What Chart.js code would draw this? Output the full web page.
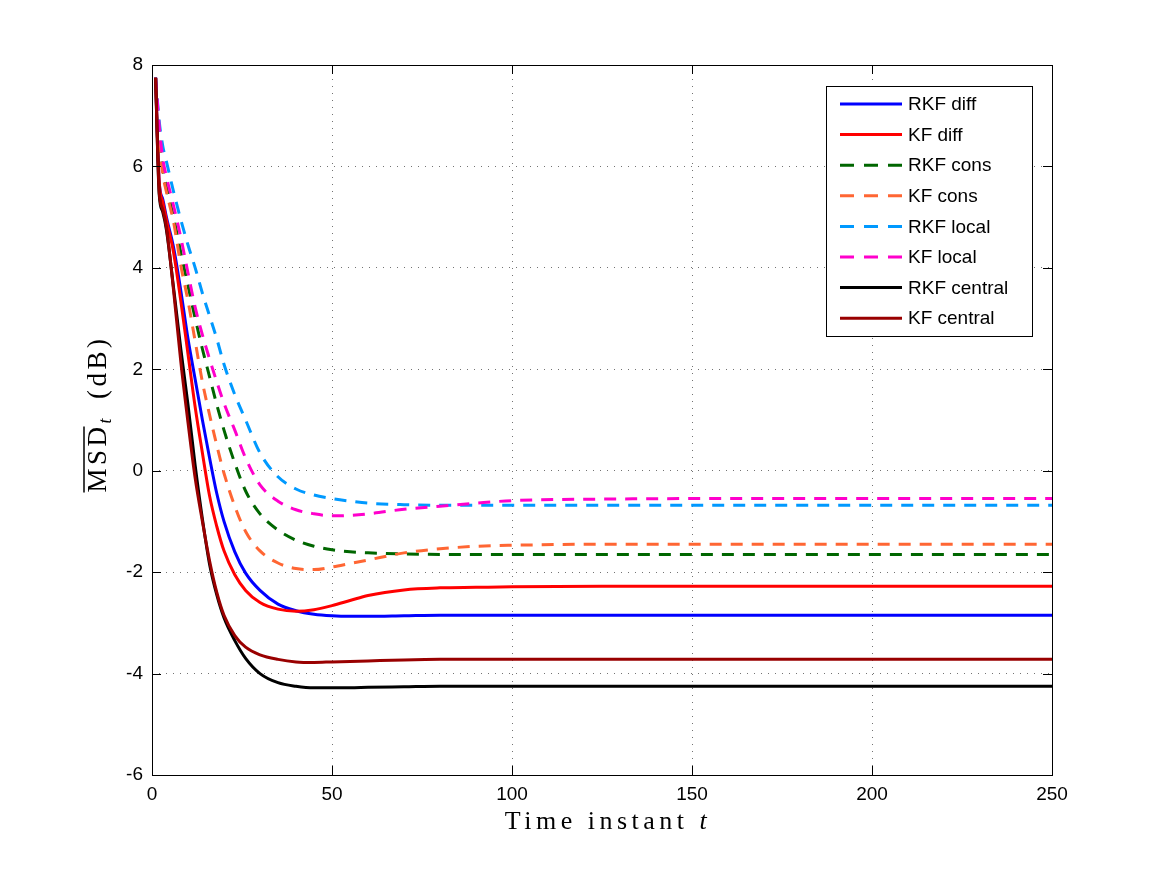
<!DOCTYPE html>
<html>
<head>
<meta charset="utf-8">
<script src="https://cdn.jsdelivr.net/npm/chart.js@4.4.1/dist/chart.umd.min.js"></script>
<style>
  html, body { margin: 0; padding: 0; background: #fff; }
  #wrap { width: 1163px; height: 871px; }
</style>
</head>
<body>
<div id="wrap"><canvas id="msdChart"></canvas></div>
<script>
const tValues = [1, 2, 3, 4, 6, 8, 10, 12, 14, 16, 18, 20, 23, 26, 30, 35, 40, 45, 50, 55, 60, 70, 80, 90, 100, 125, 150, 200, 250];

const rkfDiff = [7.75, 5.7, 5.35, 5.0, 4.4, 3.55, 2.6, 1.8, 1.0, 0.25, -0.45, -1.0, -1.6, -2.02, -2.36, -2.63, -2.76, -2.83, -2.86, -2.87, -2.87, -2.86, -2.85, -2.85, -2.85, -2.85, -2.85, -2.85, -2.85];
const kfDiff = [7.75, 5.7, 5.3, 4.95, 4.3, 3.35, 2.3, 1.25, 0.35, -0.5, -1.1, -1.58, -2.05, -2.36, -2.6, -2.73, -2.77, -2.74, -2.66, -2.56, -2.46, -2.35, -2.31, -2.3, -2.29, -2.28, -2.28, -2.28, -2.28];
const rkfCons = [7.75, 6.6, 5.95, 5.6, 5.0, 4.3, 3.65, 3.0, 2.4, 1.85, 1.3, 0.8, 0.15, -0.4, -0.85, -1.17, -1.37, -1.49, -1.56, -1.6, -1.62, -1.64, -1.65, -1.65, -1.65, -1.65, -1.65, -1.65, -1.65];
const kfCons = [7.75, 6.5, 5.85, 5.5, 4.9, 4.05, 3.35, 2.55, 1.75, 1.1, 0.5, -0.05, -0.7, -1.2, -1.58, -1.82, -1.93, -1.95, -1.9, -1.83, -1.76, -1.62, -1.54, -1.49, -1.47, -1.45, -1.45, -1.45, -1.45];
const rkfLocal = [7.75, 6.9, 6.4, 6.1, 5.5, 4.95, 4.45, 4.0, 3.5, 3.05, 2.6, 2.1, 1.5, 1.0, 0.35, -0.12, -0.36, -0.48, -0.55, -0.6, -0.64, -0.67, -0.68, -0.68, -0.68, -0.68, -0.68, -0.68, -0.68];
const kfLocal = [7.75, 6.8, 6.15, 5.8, 5.22, 4.6, 3.9, 3.22, 2.68, 2.2, 1.75, 1.33, 0.8, 0.25, -0.28, -0.6, -0.77, -0.85, -0.89, -0.88, -0.85, -0.76, -0.7, -0.64, -0.59, -0.56, -0.55, -0.55, -0.55];
const rkfCentral = [7.75, 5.45, 5.1, 4.75, 3.6, 2.4, 1.3, 0.1, -0.95, -1.85, -2.45, -2.9, -3.35, -3.7, -4.0, -4.18, -4.25, -4.28, -4.28, -4.28, -4.27, -4.26, -4.25, -4.25, -4.25, -4.25, -4.25, -4.25, -4.25];
const kfCentral = [7.75, 5.5, 5.15, 4.8, 3.55, 2.15, 0.95, -0.15, -1.0, -1.78, -2.4, -2.85, -3.25, -3.48, -3.63, -3.72, -3.77, -3.78, -3.77, -3.76, -3.75, -3.73, -3.72, -3.72, -3.72, -3.72, -3.72, -3.72, -3.72];

const seriesNames = ['RKF diff', 'KF diff', 'RKF cons', 'KF cons', 'RKF local', 'KF local', 'RKF central', 'KF central'];
const seriesData = [rkfDiff, kfDiff, rkfCons, kfCons, rkfLocal, kfLocal, rkfCentral, kfCentral];
const seriesColors = ['#0000ff', '#ff0000', '#006600', '#ff6633', '#0099ff', '#ff00cc', '#000000', '#990000'];
const seriesDashed = [false, false, true, true, true, true, false, false];

const xTicks = [0, 50, 100, 150, 200, 250];
const yTicks = [-6, -4, -2, 0, 2, 4, 6, 8];

const DASH = [12, 9];

// box, inward tick marks, legend and the two axis titles (MATLAB look)
const matlabFrame = {
    id: 'matlabFrame',
    afterDatasetsDraw(chart) {
        const ctx = chart.ctx;
        const a = chart.chartArea;
        const xs = chart.scales.x, ys = chart.scales.y;
        ctx.save();
        ctx.strokeStyle = '#000';
        ctx.lineWidth = 1;
        ctx.setLineDash([]);
        ctx.beginPath();
        xTicks.forEach(v => {
            const px = Math.round(xs.getPixelForValue(v)) + 0.5;
            ctx.moveTo(px, a.bottom); ctx.lineTo(px, a.bottom - 9);
            ctx.moveTo(px, a.top); ctx.lineTo(px, a.top + 9);
        });
        yTicks.forEach(v => {
            const py = Math.round(ys.getPixelForValue(v)) + 0.5;
            ctx.moveTo(a.left, py); ctx.lineTo(a.left + 9, py);
            ctx.moveTo(a.right, py); ctx.lineTo(a.right - 9, py);
        });
        ctx.stroke();
        ctx.strokeRect(Math.round(a.left) + 0.5, Math.round(a.top) + 0.5, Math.round(a.right - a.left), Math.round(a.bottom - a.top));

        // legend
        const lx = 826, ly = 86, lw = 206, lh = 250;
        ctx.fillStyle = '#fff';
        ctx.fillRect(lx, ly, lw, lh);
        ctx.strokeRect(lx + 0.5, ly + 0.5, lw, lh);
        ctx.font = '19px "Liberation Sans", Arial, sans-serif';
        ctx.textBaseline = 'middle';
        ctx.textAlign = 'left';
        seriesNames.forEach((name, i) => {
            const y = ly + 18 + i * 30.6;
            ctx.strokeStyle = seriesColors[i];
            ctx.lineWidth = 3;
            ctx.setLineDash(seriesDashed[i] ? [14, 10] : []);
            ctx.beginPath();
            ctx.moveTo(840, y); ctx.lineTo(902, y);
            ctx.stroke();
            ctx.fillStyle = '#000';
            ctx.fillText(name, 908, y + 1);
        });
        ctx.setLineDash([]);

        // x title
        ctx.fillStyle = '#000';
        ctx.textBaseline = 'alphabetic';
        ctx.letterSpacing = '4.5px';
        const main = 'Time instant ';
        ctx.font = '26px "Liberation Serif", serif';
        const w1 = ctx.measureText(main).width;
        ctx.font = 'italic 26px "Liberation Serif", serif';
        const w2 = ctx.measureText('t').width;
        let sx = (a.left + a.right) / 2 - (w1 + w2) / 2 + 6;
        ctx.font = '26px "Liberation Serif", serif';
        ctx.fillText(main, sx, 829);
        ctx.font = 'italic 26px "Liberation Serif", serif';
        ctx.fillText('t', sx + w1, 829);

        // y title, rotated
        ctx.translate(106, 414);
        ctx.rotate(-Math.PI / 2);
        ctx.letterSpacing = '3.5px';
        ctx.font = '27px "Liberation Serif", serif';
        const wMsd = ctx.measureText('MSD').width;
        const wDb = ctx.measureText('(dB)').width;
        ctx.font = 'italic 18px "Liberation Serif", serif';
        const wT = ctx.measureText('t').width;
        const gap = 16;
        const total = wMsd + wT + gap + wDb;
        let p = -total / 2;
        ctx.font = '27px "Liberation Serif", serif';
        ctx.fillText('MSD', p, 0);
        ctx.lineWidth = 1.5;
        ctx.strokeStyle = '#000';
        ctx.beginPath();
        ctx.moveTo(p, -22); ctx.lineTo(p + wMsd - 3, -22);
        ctx.stroke();
        p += wMsd;
        ctx.font = 'italic 18px "Liberation Serif", serif';
        ctx.fillText('t', p, 5);
        p += wT + gap;
        ctx.font = '27px "Liberation Serif", serif';
        ctx.fillText('(dB)', p, 0);
        ctx.restore();
    }
};

const datasets = seriesNames.map((name, i) => ({
    label: name,
    data: tValues.map((t, k) => ({ x: t, y: seriesData[i][k] })),
    borderColor: seriesColors[i],
    backgroundColor: seriesColors[i],
    borderWidth: 3,
    borderDash: seriesDashed[i] ? DASH : [],
    pointRadius: 0,
    cubicInterpolationMode: 'monotone',
    fill: false,
    order: seriesNames.length - i
}));

new Chart(document.getElementById('msdChart'), {
    type: 'line',
    data: { datasets: datasets },
    options: {
        responsive: true,
        maintainAspectRatio: false,
        animation: false,
        layout: { padding: { left: 0, top: 65, right: 111, bottom: 0 } },
        plugins: {
            legend: { display: false },
            tooltip: { enabled: false }
        },
        scales: {
            x: {
                type: 'linear',
                min: 0,
                max: 250,
                afterFit: s => { s.height = 96; },
                afterBuildTicks: s => { s.ticks = xTicks.map(v => ({ value: v })); },
                ticks: {
                    padding: 8,
                    color: '#000',
                    font: { family: '"Liberation Sans", Arial, sans-serif', size: 19 }
                },
                grid: { color: 'rgba(0,0,0,0.55)', lineWidth: 1, drawTicks: false },
                border: { display: false, dash: [1, 6] }
            },
            y: {
                min: -6,
                max: 8,
                afterFit: s => { s.width = 152; },
                afterBuildTicks: s => { s.ticks = yTicks.map(v => ({ value: v })); },
                ticks: {
                    padding: 9,
                    color: '#000',
                    font: { family: '"Liberation Sans", Arial, sans-serif', size: 19 }
                },
                grid: { color: 'rgba(0,0,0,0.55)', lineWidth: 1, drawTicks: false },
                border: { display: false, dash: [1, 6] }
            }
        }
    },
    plugins: [matlabFrame]
});
</script>
</body>
</html>
